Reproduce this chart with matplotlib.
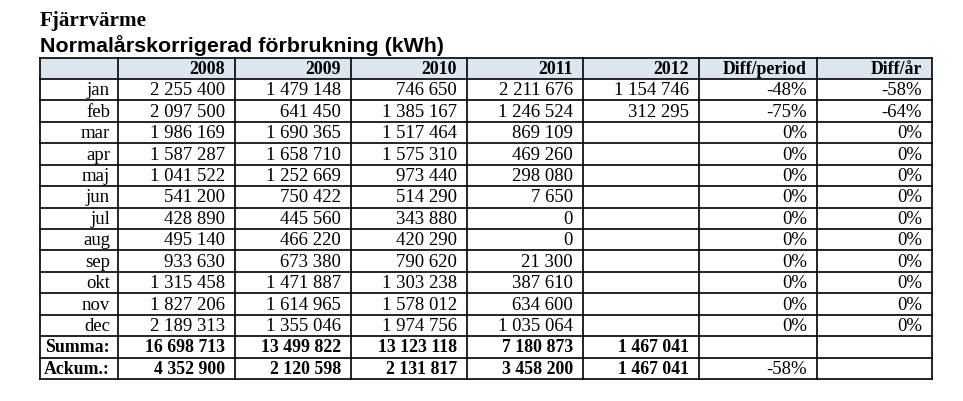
import matplotlib
matplotlib.use("Agg")
from matplotlib import pyplot as plt
from matplotlib.patches import Rectangle

# data
months = ["jan", "feb", "mar", "apr", "maj", "jun", "jul", "aug", "sep", "okt", "nov", "dec"]
headers = ["2008", "2009", "2010", "2011", "2012", "Diff/period", "Diff/år"]
y2008 = ["2 255 400", "2 097 500", "1 986 169", "1 587 287", "1 041 522", "541 200",
         "428 890", "495 140", "933 630", "1 315 458", "1 827 206", "2 189 313"]
y2009 = ["1 479 148", "641 450", "1 690 365", "1 658 710", "1 252 669", "750 422",
         "445 560", "466 220", "673 380", "1 471 887", "1 614 965", "1 355 046"]
y2010 = ["746 650", "1 385 167", "1 517 464", "1 575 310", "973 440", "514 290",
         "343 880", "420 290", "790 620", "1 303 238", "1 578 012", "1 974 756"]
y2011 = ["2 211 676", "1 246 524", "869 109", "469 260", "298 080", "7 650",
         "0", "0", "21 300", "387 610", "634 600", "1 035 064"]
y2012 = ["1 154 746", "312 295", "", "", "", "", "", "", "", "", "", ""]
diffPeriod = ["-48%", "-75%"] + ["0%"] * 10
diffYear = ["-58%", "-64%"] + ["0%"] * 10
summa = ["16 698 713", "13 499 822", "13 123 118", "7 180 873", "1 467 041", "", ""]
ackum = ["4 352 900", "2 120 598", "2 131 817", "3 458 200", "1 467 041", "-58%", ""]

# layout in pixels
colEdges = [40, 118, 235, 351, 467, 583, 699, 817, 932]
top = 58
headerH = 21
rowH = 21.43
serif = "Liberation Serif"
fs = 13.5
fsBold = 12.8

fig = plt.figure(figsize=(9.63, 4.01), dpi=100)
ax = fig.add_axes([0, 0, 1, 1])
ax.set_xlim(0, 963)
ax.set_ylim(401, 0)
ax.axis("off")

ax.text(40, 21, "Fjärrvärme", fontname=serif, fontweight="bold", fontsize=15.2, va="center", ha="left")
ax.text(40, 46, "Normalårskorrigerad förbrukning (kWh)", fontname="Liberation Sans",
        fontweight="bold", fontsize=15.4, va="center", ha="left")

rows = [["", *headers]]
for i, m in enumerate(months):
    rows.append([m, y2008[i], y2009[i], y2010[i], y2011[i], y2012[i], diffPeriod[i], diffYear[i]])
rows.append(["Summa:", *summa])
rows.append(["Ackum.:", *ackum])

yEdges = [top, top + headerH]
for r in range(1, len(rows)):
    yEdges.append(top + headerH + r * rowH)

# header fill
ax.add_patch(Rectangle((colEdges[0], yEdges[0]), colEdges[-1] - colEdges[0], headerH,
                       facecolor="#dce6f1", edgecolor="none"))

for r, row in enumerate(rows):
    yc = (yEdges[r] + yEdges[r + 1]) / 2 + 1
    for c, val in enumerate(row):
        if not val:
            continue
        bold = r == 0 or (r >= 13 and val != "-58%")
        pad = 8 if c == 0 else 10
        ax.text(colEdges[c + 1] - pad, yc, val, fontname=serif,
                fontsize=fsBold if bold else fs,
                fontweight="bold" if bold else "normal", ha="right", va="center")

# grid lines
for x in colEdges:
    ax.plot([x, x], [yEdges[0], yEdges[-1]], color="black", lw=1.2)
for y in yEdges:
    ax.plot([colEdges[0], colEdges[-1]], [y, y], color="black", lw=1.2)

fig.savefig("out.png", dpi=100)
